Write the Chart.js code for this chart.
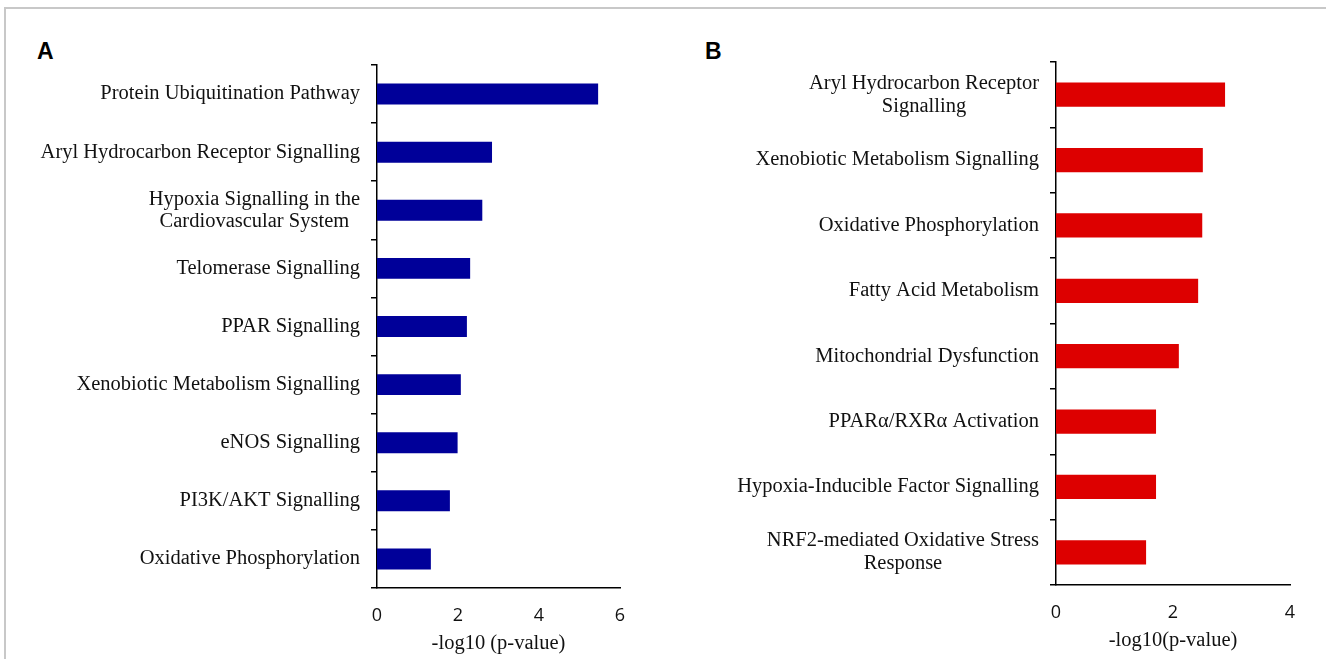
<!DOCTYPE html>
<html>
<head>
<meta charset="utf-8">
<script src="https://cdn.jsdelivr.net/npm/chart.js@4.4.1/dist/chart.umd.min.js"></script>
<style>
	body { margin: 0; background: #ffffff; width: 1326px; height: 659px; overflow: hidden; position: relative; }
	#frame { position: absolute; left: 4px; top: 7px; right: 0; bottom: 0; border-top: 2px solid #c8c8c8; border-left: 2px solid #c8c8c8; }
	.panel { position: absolute; top: 0; height: 659px; }
	.letter { position: absolute; top: 38px; font: bold 23px "Liberation Sans", Arial, sans-serif; color: #000; }
</style>
</head>
<body>
<div id="frame"></div>
<div class="letter" style="left: 37px;">A</div>
<div class="letter" style="left: 705px;">B</div>
<div class="panel" style="left: 0; width: 660px;"><canvas id="chartA" width="660" height="659"></canvas></div>
<div class="panel" style="left: 660px; width: 666px;"><canvas id="chartB" width="666" height="659"></canvas></div>
<script>
// Panel A data
const pathwaysA = [
	'Protein Ubiquitination Pathway',
	'Aryl Hydrocarbon Receptor Signalling',
	['Hypoxia Signalling in the', 'Cardiovascular System'],
	'Telomerase Signalling',
	'PPAR Signalling',
	'Xenobiotic Metabolism Signalling',
	'eNOS Signalling',
	'PI3K/AKT Signalling',
	'Oxidative Phosphorylation'
];
const valuesA = [5.46, 2.84, 2.60, 2.30, 2.22, 2.07, 1.99, 1.80, 1.33];
const ticksA = [0, 2, 4, 6];

// Panel B data
const pathwaysB = [
	['Aryl Hydrocarbon Receptor', 'Signalling'],
	'Xenobiotic Metabolism Signalling',
	'Oxidative Phosphorylation',
	'Fatty Acid Metabolism',
	'Mitochondrial Dysfunction',
	'PPARα/RXRα Activation',
	'Hypoxia-Inducible Factor Signalling',
	['NRF2-mediated Oxidative Stress', 'Response']
];
const valuesB = [2.89, 2.51, 2.50, 2.43, 2.10, 1.71, 1.71, 1.54];
const ticksB = [0, 2, 4];

const serifFont = '"Liberation Serif", "Times New Roman", serif';
const textColour = '#111111';

// Plugin to draw the category labels, right-aligned as a block with lines centred
const pathwayLabels = {
	id: 'pathwayLabels',
	afterDraw (chart, args, opts)
	{
		const ctx = chart.ctx;
		const scale = chart.scales.y;
		ctx.save();
		ctx.font = '20.5px ' + serifFont;
		ctx.fillStyle = textColour;
		ctx.textAlign = 'center';
		ctx.textBaseline = 'middle';
		scale.getLabels().forEach((label, i) => {
			const lines = Array.isArray(label) ? label : [label];
			const widest = Math.max(...lines.map(line => ctx.measureText(line).width));
			const centreX = scale.right - opts.gap - widest / 2;
			const y = scale.getPixelForValue(i);
			lines.forEach((line, j) => {
				ctx.fillText(line, centreX, y + (j - (lines.length - 1) / 2) * opts.lineHeight);
			});
		});
		ctx.restore();
	}
};

// Function to render one panel
function renderPanel (canvasId, labels, values, ticks, colour, axisTitle, box)
{
	const canvas = document.getElementById(canvasId);
	return new Chart(canvas.getContext('2d'), {
		type: 'bar',
		data: {
			labels: labels,
			datasets: [{
				data: values,
				backgroundColor: colour,
				borderWidth: 0,
				categoryPercentage: 1,
				barPercentage: box.barPercentage
			}]
		},
		plugins: [pathwayLabels],
		options: {
			indexAxis: 'y',
			responsive: false,
			animation: false,
			layout: {
				padding: {top: box.top, right: canvas.width - box.right, left: 0, bottom: 0}
			},
			plugins: {
				legend: {display: false},
				tooltip: {enabled: false},
				pathwayLabels: {gap: 17, lineHeight: box.lineHeight}
			},
			scales: {
				x: {
					min: 0,
					max: ticks[ticks.length - 1],
					afterBuildTicks: scale => { scale.ticks = ticks.map(v => ({value: v})); },
					afterFit: scale => { scale.height = canvas.height - box.bottom; },
					grid: {display: false},
					border: {display: true, color: '#000000', width: 1.5},
					ticks: {
						padding: 9,
						color: textColour,
						font: {family: '"Open Sans", "Liberation Sans", sans-serif', size: 18}
					},
					title: {
						display: true,
						text: axisTitle,
						color: textColour,
						font: {family: serifFont, size: 20.5},
						padding: {top: 0, bottom: box.titlePad}
					}
				},
				y: {
					afterFit: scale => { scale.width = box.left; },
					grid: {
						display: true,
						offset: true,
						drawOnChartArea: false,
						drawTicks: true,
						tickLength: 6,
						color: '#000000',
						lineWidth: 1.5
					},
					border: {display: true, color: '#000000', width: 1.5},
					ticks: {display: false}
				}
			}
		}
	});
}

renderPanel('chartA', pathwaysA, valuesA, ticksA, '#000099', '-log10 (p-value)',
	{left: 377, right: 620, top: 65, bottom: 588, barPercentage: 0.36, lineHeight: 22, titlePad: 3});
renderPanel('chartB', pathwaysB, valuesB, ticksB, '#dd0000', '-log10(p-value)',
	{left: 396, right: 630, top: 62, bottom: 585, barPercentage: 0.37, lineHeight: 23, titlePad: 6});
</script>
</body>
</html>
